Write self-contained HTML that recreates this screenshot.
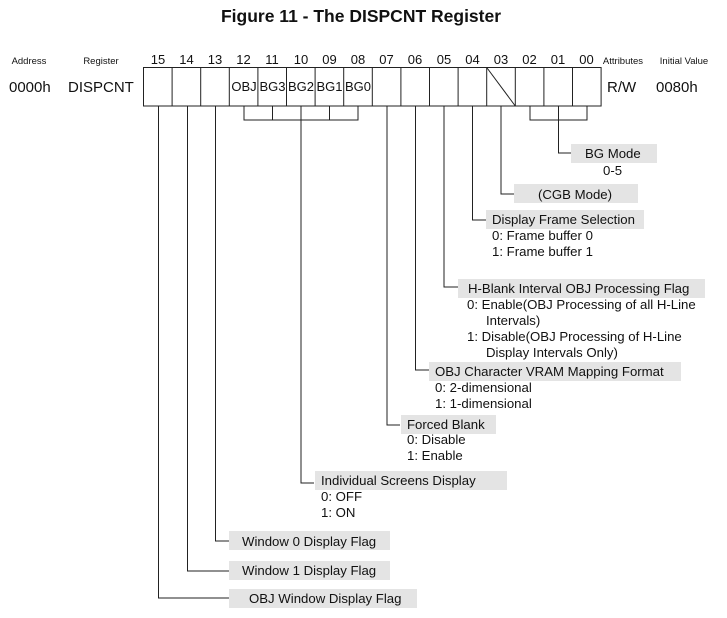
<!DOCTYPE html>
<html><head><meta charset="utf-8"><style>
body{margin:0;background:#fff;}
svg text{font-family:"Liberation Sans",Arial,sans-serif;fill:#111;}
</style></head><body>
<svg width="727" height="613" viewBox="0 0 727 613" xmlns="http://www.w3.org/2000/svg">
<text x="361" y="22" font-size="17.5" font-weight="bold" text-anchor="middle">Figure 11 - The DISPCNT Register</text>
<g font-size="9.5" text-anchor="middle">
<text x="29" y="64">Address</text><text x="101" y="64">Register</text>
<text x="623" y="64">Attributes</text><text x="684" y="64">Initial Value</text>
</g>
<g font-size="13" text-anchor="middle">
<text x="158" y="64">15</text><text x="186.5" y="64">14</text><text x="215" y="64">13</text><text x="243.5" y="64">12</text>
<text x="272" y="64">11</text><text x="301" y="64">10</text><text x="329.5" y="64">09</text><text x="358" y="64">08</text>
<text x="386.5" y="64">07</text><text x="415" y="64">06</text><text x="444" y="64">05</text><text x="472.5" y="64">04</text>
<text x="501" y="64">03</text><text x="529.5" y="64">02</text><text x="558" y="64">01</text><text x="586.5" y="64">00</text>
</g>
<g font-size="15">
<text x="9" y="92">0000h</text><text x="68" y="92">DISPCNT</text>
<text x="607" y="92">R/W</text><text x="656" y="92">0080h</text>
</g>
<g font-size="13" text-anchor="middle">
<text x="244" y="91">OBJ</text><text x="272.5" y="91">BG3</text><text x="301" y="91">BG2</text><text x="329.5" y="91">BG1</text><text x="358" y="91">BG0</text>
</g>
<g stroke="#222" stroke-width="1" fill="none">
<rect x="143.5" y="67.5" width="457.6" height="38.5"/>
<path d="M172.1 67.5V106M200.7 67.5V106M229.3 67.5V106M257.9 67.5V106M286.5 67.5V106M315.1 67.5V106M343.7 67.5V106M372.3 67.5V106M400.9 67.5V106M429.5 67.5V106M458.1 67.5V106M486.7 67.5V106M515.3 67.5V106M543.9 67.5V106M572.5 67.5V106"/>
<path d="M486.7 67.5L515.3 106"/>
<path d="M244 106V120H358V106M272.5 106V120M329.5 106V120"/>
<path d="M301 106V483H314"/>
<path d="M530 106V120H587V106"/>
<path d="M558.5 106V153H571"/>
<path d="M158.5 106V598H229"/>
<path d="M187.5 106V571H229"/>
<path d="M215.5 106V541H229"/>
<path d="M387 106V425H400"/>
<path d="M415.5 106V370H429"/>
<path d="M444 106V287H458"/>
<path d="M472.5 106V220H486"/>
<path d="M501 106V194H514"/>
</g>
<g fill="#e4e4e4">
<rect x="571" y="144" width="86" height="19"/>
<rect x="514" y="184" width="124" height="19"/>
<rect x="486" y="210" width="158" height="19"/>
<rect x="458" y="279" width="247" height="19"/>
<rect x="429" y="362" width="252" height="19"/>
<rect x="401" y="415" width="95" height="19"/>
<rect x="315" y="471" width="192" height="19"/>
<rect x="229" y="531" width="161" height="19"/>
<rect x="229" y="561" width="161" height="19"/>
<rect x="229" y="589" width="188" height="19"/>
</g>
<g font-size="13.2">
<text x="585" y="158">BG Mode</text>
<text x="603" y="175">0-5</text>
<text x="538" y="199">(CGB Mode)</text>
<text x="492" y="224">Display Frame Selection</text>
<text x="492" y="240">0: Frame buffer 0</text>
<text x="492" y="256">1: Frame buffer 1</text>
<text x="468" y="293">H-Blank Interval OBJ Processing Flag</text>
<text x="467" y="309">0:  Enable(OBJ Processing of all H-Line</text>
<text x="486" y="325">Intervals)</text>
<text x="467" y="341">1:  Disable(OBJ Processing of H-Line</text>
<text x="486" y="357">Display Intervals Only)</text>
<text x="435" y="376">OBJ Character VRAM Mapping Format</text>
<text x="435" y="392">0:  2-dimensional</text>
<text x="435" y="408">1:  1-dimensional</text>
<text x="407" y="429">Forced Blank</text>
<text x="407" y="444">0:  Disable</text>
<text x="407" y="460">1:  Enable</text>
<text x="321" y="485">Individual Screens Display</text>
<text x="321" y="501">0:  OFF</text>
<text x="321" y="517">1:  ON</text>
<text x="242" y="546">Window 0 Display Flag</text>
<text x="242" y="575">Window 1 Display Flag</text>
<text x="249" y="603">OBJ Window Display Flag</text>
</g>
</svg>
</body></html>
